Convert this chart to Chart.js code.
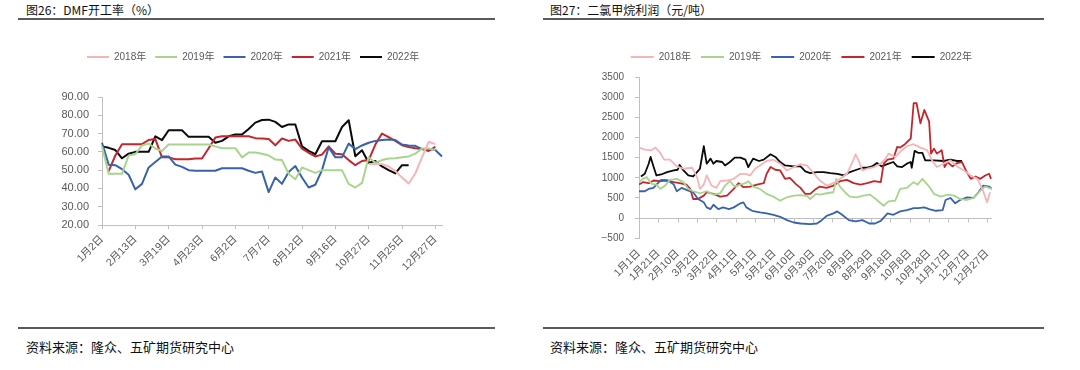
<!DOCTYPE html>
<html lang="zh-CN">
<head>
<meta charset="utf-8">
<script src="https://cdn.jsdelivr.net/npm/chart.js@4.4.1/dist/chart.umd.min.js"></script>
<style>
    html, body { margin: 0; padding: 0; background: #fff; }
    body { width: 1080px; height: 370px; position: relative; overflow: hidden; font-family: "Noto Sans CJK SC", sans-serif; }
    .title { position: absolute; top: 2px; font-size: 12px; line-height: 16px; color: #111; }
    .rule { position: absolute; height: 2px; background: #5a5a5a; }
    .source { position: absolute; top: 338px; font-size: 13px; line-height: 17px; color: #111; }
    canvas { position: absolute; top: 0; }
</style>
</head>
<body>
<div class="title" style="left:26px">图26：DMF开工率（%）</div>
<div class="rule" style="left:18px;width:477px;top:18px"></div>
<canvas id="dmfChart" width="540" height="325" style="left:0"></canvas>
<div class="rule" style="left:18px;width:477px;top:327px"></div>
<div class="source" style="left:26px">资料来源：隆众、五矿期货研究中心</div>

<div class="title" style="left:550px">图27：二氯甲烷利润（元/吨）</div>
<div class="rule" style="left:543px;width:501px;top:18px"></div>
<canvas id="dcmChart" width="540" height="325" style="left:540px"></canvas>
<div class="rule" style="left:543px;width:501px;top:327px"></div>
<div class="source" style="left:550px">资料来源：隆众、五矿期货研究中心</div>

<script>
// ---- DMF开工率 (weekly) ----
const dmfDates = ['1月2日', '1月9日', '1月16日', '1月23日', '2月6日', '2月13日', '2月20日', '2月27日', '3月5日', '3月12日',
    '3月19日', '3月26日', '4月2日', '4月9日', '4月16日', '4月23日', '4月30日', '5月7日', '5月14日', '5月21日',
    '6月2日', '6月9日', '6月16日', '6月23日', '6月30日', '7月7日', '7月14日', '7月21日', '7月28日', '8月4日',
    '8月12日', '8月19日', '8月26日', '9月2日', '9月9日', '9月16日', '9月23日', '9月30日', '10月13日', '10月20日',
    '10月27日', '11月3日', '11月10日', '11月17日', '11月21日', '11月25日', '12月2日', '12月9日', '12月16日', '12月23日',
    '12月27日', '12月30日'];

const dmf2018 = [null, null, null, null, null, null, null, null, null, null,
    null, null, null, null, null, null, null, null, null, null,
    null, null, null, null, null, null, null, null, null, null,
    null, null, null, null, null, null, null, null, null, null,
    53.3, 53.3, 53.3, 52, 49.5, 46, 42.7, 48.2, 57, 65.5, 64.2, null];
const dmf2019 = [63, 48, 48, 48, 58, 58.7, 63.5, 64.5, 61.8, 60.5,
    64, 64, 64, 64, 64, 64, 64, 63, 62, 62,
    62, 57, 59.6, 59.6, 59, 58, 55.8, 55.5, 48, 45,
    51.5, 50, 48.5, 50, 50, 50, 50, 42.5, 40.5, 43,
    57, 54, 55.5, 56.4, 56.5, 57, 57.5, 59, 61.8, 61.8, 61, null];
const dmf2020 = [65, 53, 52.7, 50.5, 47.5, 39.5, 42.5, 51.5, 54.5, 57.5,
    57.5, 53, 51.8, 50, 49.7, 49.7, 49.7, 49.7, 51, 51,
    51, 51, 49.7, 48.5, 49.2, 38, 46, 42.5, 49, 52.2,
    46, 40.5, 42, 50, 62.5, 57, 57, 64.5, 61.5, 63.5,
    65, 66, 66.5, 66.7, 66.5, 64, 63.5, 63.3, 61.5, 61.5, 61, 57.5];
const dmf2021 = [null, 49.5, 58, 64.2, 64.2, 64.2, 64.2, 66.5, 67, 57,
    57, 56, 56, 56, 56.4, 56.4, 62, 67.8, 68.5, 68.5,
    68.5, 68.5, 68.5, 67.5, 67.3, 67, 63.6, 67.3, 66, 66.7,
    61.8, 59.5, 57.5, 58.5, 63, 59, 58.7, 55.5, 52.7, 55,
    55.5, 64, 70, 68, 66, 63.6, 62.7, 62, 61.5, 60.5, 62.7, null];
const dmf2022 = [63, 62.2, 61, 56.5, 59, 60, 60, 60, 68.5, 66.4,
    71.8, 71.8, 71.8, 68.2, 68.2, 68.2, 68.2, 65, 66, 68.5,
    69.5, 69.5, 72.5, 76, 77.4, 77.6, 76.4, 73.6, 75, 75,
    63, 60.5, 58.7, 65.8, 65.8, 65.8, 73.6, 77.3, 57.6, 60.9,
    54, 55, 52, 50, 48.2, 52.7, 52.7, null, null, null, null, null];
const dmfTicks = [20, 90, 10];

// ---- 二氯甲烷利润 (daily, read every few days) ----
const dcmTickLabels = ['1月1日', '1月21日', '2月10日', '3月2日', '3月22日', '4月11日', '5月1日', '5月21日', '6月10日', '6月30日',
    '7月20日', '8月9日', '8月29日', '9月18日', '10月8日', '10月28日', '11月17日', '12月7日', '12月27日'];

const days2018 = [0, 6, 13, 17, 22, 26, 32, 39, 46, 55, 60, 63, 67, 70, 75, 80, 84, 91, 98, 105,
    110, 115, 120, 125, 132, 139, 146, 153, 160, 167, 174, 181, 187, 194, 201, 208, 215, 220, 224, 227,
    231, 236, 243, 250, 255, 258, 265, 270, 277, 284, 291, 298, 303, 308, 315, 322, 329, 336, 343, 350,
    355, 360, 363];
const profit2018 = [1750, 1700, 1683, 1750, 1617, 1450, 1450, 1283, 1225, 1250, 1017, 725, 833, 1058, 808, 750, 917, 933, 975, 1100,
    1100, 1058, 1225, 1308, 1417, 1450, 1350, 1183, 1267, 1340, 1300, 1100, 933, 808, 867, 975, 1100, 1350, 1583, 1433,
    1183, 1225, 1267, 1350, 1475, 1600, 1517, 1642, 1783, 1833, 1750, 1683, 1433, 1267, 1350, 1433, 1283, 1183, 1058, 975,
    725, 392, 642];

const days2019 = [0, 4, 8, 13, 18, 22, 27, 32, 39, 46, 51, 56, 63, 70, 77, 84, 89, 94, 99, 105,
    110, 113, 118, 125, 132, 139, 146, 153, 160, 167, 174, 177, 183, 187, 194, 201, 204, 207, 213, 218,
    225, 232, 239, 246, 253, 258, 265, 270, 277, 284, 288, 293, 300, 305, 312, 319, 326, 332, 339, 346,
    353, 358, 365];
const profit2019 = [892, 975, 1017, 850, 833, 725, 808, 950, 975, 892, 725, 667, 617, 667, 583, 617, 808, 917, 783, 833,
    867, 917, 783, 725, 600, 533, 433, 517, 558, 570, 545, 475, 600, 583, 617, 642, 975, 808, 642, 533,
    517, 558, 583, 450, 308, 417, 433, 725, 750, 892, 833, 975, 783, 600, 533, 583, 558, 475, 450, 500,
    683, 783, 725];

const days2020 = [0, 6, 10, 15, 18, 23, 30, 36, 39, 44, 51, 56, 61, 67, 70, 74, 77, 82, 87, 93,
    98, 105, 108, 111, 117, 125, 132, 139, 146, 153, 160, 167, 177, 184, 189, 194, 201, 205, 210, 217,
    224, 231, 238, 244, 250, 257, 263, 270, 277, 284, 289, 295, 300, 307, 314, 317, 322, 327, 332, 339,
    346, 351, 356, 362, 365];
const profit2020 = [667, 667, 725, 750, 833, 950, 933, 833, 667, 750, 683, 642, 475, 392, 267, 225, 333, 225, 267, 225,
    267, 367, 392, 267, 183, 142, 117, 83, 33, -50, -108, -133, -150, -133, -50, 58, 117, 167, 83, -50,
    -83, -50, -133, -133, -67, 117, 83, 167, 200, 250, 250, 267, 225, 183, 200, 450, 500, 367, 450, 517,
    500, 642, 808, 783, 725];

const days2021 = [0, 4, 10, 15, 22, 29, 36, 42, 49, 53, 56, 61, 67, 70, 77, 84, 91, 98, 103, 108,
    115, 122, 129, 132, 136, 141, 146, 151, 156, 162, 167, 172, 177, 183, 187, 194, 201, 208, 215, 222,
    229, 236, 243, 250, 253, 257, 263, 267, 270, 275, 281, 284, 287, 291, 295, 300, 302, 305, 308, 313,
    316, 319, 324, 329, 334, 338, 343, 348, 353, 358, 362, 364];
const profit2021 = [833, 892, 867, 933, 917, 933, 892, 867, 833, 725, 475, 475, 558, 642, 600, 533, 558, 725, 867, 767,
    783, 833, 867, 1100, 1267, 1200, 1183, 975, 1000, 850, 750, 600, 600, 725, 783, 750, 808, 917, 950, 867,
    833, 867, 917, 892, 1350, 1450, 1475, 1767, 1750, 1833, 1975, 2850, 2850, 2350, 2683, 2392, 1600, 1725, 1600, 1683,
    1267, 1392, 1283, 1367, 1392, 1183, 975, 1033, 975, 1058, 1100, 975];

const days2022 = [2, 6, 10, 12, 15, 18, 23, 29, 36, 40, 42, 46, 51, 56, 60, 63, 67, 70, 74, 77,
    80, 86, 89, 94, 99, 105, 110, 113, 118, 124, 129, 136, 141, 146, 151, 160, 167, 172, 177, 184,
    191, 198, 205, 212, 218, 225, 231, 236, 241, 246, 251, 256, 263, 267, 272, 277, 281, 282, 285, 289,
    293, 296, 305, 315, 322, 329, 334];
const profit2022 = [1033, 1100, 1350, 1517, 1283, 1058, 1083, 1142, 1183, 1200, 1320, 1183, 1058, 1033, 1142, 1225, 1783, 1350, 1475, 1350,
    1417, 1392, 1308, 1392, 1500, 1500, 1450, 1267, 1475, 1417, 1450, 1583, 1517, 1392, 1308, 1283, 1283, 1160, 1117, 1142,
    1142, 1117, 1100, 1058, 1142, 1200, 1250, 1250, 1283, 1367, 1283, 1333, 1392, 1283, 1267, 1350, 1392, 1250, 1667, 1617,
    1617, 1433, 1433, 1417, 1450, 1417, 1417];
const dcmTicks = [-500, 3500, 500];

const yearNames = ['2018年', '2019年', '2020年', '2021年', '2022年'];
const yearColors = ['#f5b4b6', '#a8d48d', '#3862ad', '#c1272d', '#0a0a0a'];

(function () {
    const axisGrey = '#bfbfbf';
    const textGrey = '#595959';
    Chart.defaults.font.family = '"Liberation Sans", "Noto Sans CJK SC", sans-serif';
    Chart.defaults.color = textGrey;

    // legend: extra room below it, and its row starts at a fixed x inside the canvas
    const legendPlace = (startX, extra) => ({
        id: 'legendPlace',
        beforeInit(chart) {
            const legend = chart.legend;
            const fit = legend.fit;
            const draw = legend.draw;
            legend.fit = function () {
                fit.call(this);
                this.height += extra;
            };
            legend.draw = function () {
                const pad = this.options.labels.padding;
                const start = (this.left + pad + this.right - this.lineWidths[0]) / 2;
                this.ctx.save();
                this.ctx.translate(startX - start, 0);
                draw.call(this);
                this.ctx.restore();
            };
        },
    });

    const lineLegend = (boxWidth, padding) => ({
        position: 'top',
        labels: {
            boxWidth: boxWidth,
            boxHeight: 2,
            padding: padding,
            color: textGrey,
            font: { size: 10 },
            generateLabels: (chart) => Chart.defaults.plugins.legend.labels.generateLabels(chart)
                .map((item) => ({ ...item, fillStyle: item.strokeStyle, lineWidth: 0 })),
        },
    });

    const lineStyle = (i, width) => ({
        label: yearNames[i],
        borderColor: yearColors[i],
        backgroundColor: yearColors[i],
        borderWidth: width,
        pointRadius: 0,
        tension: 0,
        borderJoinStyle: 'round',
        fill: false,
    });

    // ---- left chart ----
    const dmfSeries = [dmf2018, dmf2019, dmf2020, dmf2021, dmf2022];
    new Chart(document.getElementById('dmfChart'), {
        type: 'line',
        data: {
            labels: dmfDates,
            datasets: dmfSeries.map((values, i) => ({ ...lineStyle(i, 2), data: values })),
        },
        options: {
            responsive: false,
            animation: false,
            layout: { padding: { left: 10, right: 98, top: 43, bottom: 0 } },
            plugins: { legend: lineLegend(22, 9), tooltip: { enabled: false } },
            scales: {
                x: {
                    offset: false,
                    border: { color: axisGrey },
                    grid: { drawOnChartArea: false, color: axisGrey, tickLength: 4 },
                    ticks: {
                        autoSkip: false,
                        minRotation: 45,
                        maxRotation: 45,
                        padding: 4,
                        font: { size: 10.5 },
                        callback: (v, i) => (i % 5 === 0 ? dmfDates[i] : null),
                    },
                    afterFit: (s) => { s.height = 100; },
                },
                y: {
                    min: dmfTicks[0],
                    max: dmfTicks[1],
                    border: { color: axisGrey },
                    grid: { drawOnChartArea: false, color: axisGrey, tickLength: 4 },
                    ticks: { stepSize: dmfTicks[2], padding: 9, font: { size: 11 }, callback: (v) => v.toFixed(2) },
                    afterFit: (s) => { s.width = 92; },
                },
            },
        },
        plugins: [legendPlace(87, 25)],
    });

    // ---- right chart ----
    const dcmDays = [days2018, days2019, days2020, days2021, days2022];
    const dcmValues = [profit2018, profit2019, profit2020, profit2021, profit2022];

    const zeroAxis = {
        id: 'zeroAxis',
        beforeDatasetsDraw(chart) {
            const { ctx, chartArea, scales: { x, y } } = chart;
            const y0 = Math.round(y.getPixelForValue(0)) + 0.5;
            ctx.save();
            ctx.strokeStyle = axisGrey;
            ctx.lineWidth = 1;
            ctx.beginPath();
            ctx.moveTo(chartArea.left, y0);
            ctx.lineTo(chartArea.right, y0);
            x.ticks.forEach((t) => {
                const px = Math.round(x.getPixelForValue(t.value)) + 0.5;
                ctx.moveTo(px, y0);
                ctx.lineTo(px, y0 + 4);
            });
            ctx.stroke();
            ctx.restore();
        },
    };

    new Chart(document.getElementById('dcmChart'), {
        type: 'line',
        data: {
            datasets: dcmValues.map((values, i) => ({
                ...lineStyle(i, 1.8),
                data: values.map((v, k) => ({ x: dcmDays[i][k], y: v })),
            })),
        },
        options: {
            responsive: false,
            animation: false,
            layout: { padding: { left: 10, right: 88, top: 42, bottom: 0 } },
            plugins: { legend: lineLegend(23, 10), tooltip: { enabled: false } },
            scales: {
                x: {
                    type: 'linear',
                    min: 0,
                    max: 365,
                    border: { display: false },
                    grid: { display: false, drawTicks: false },
                    ticks: {
                        stepSize: 20,
                        includeBounds: false,
                        autoSkip: false,
                        minRotation: 45,
                        maxRotation: 45,
                        padding: 9,
                        font: { size: 10.5 },
                        callback: (v) => dcmTickLabels[v / 20],
                    },
                    afterFit: (s) => { s.height = 86.7; },
                },
                y: {
                    min: dcmTicks[0],
                    max: dcmTicks[1],
                    border: { color: axisGrey },
                    grid: { drawOnChartArea: false, color: axisGrey, tickLength: 4 },
                    ticks: {
                        stepSize: dcmTicks[2],
                        padding: 11,
                        font: { size: 10 },
                        callback: (v) => (v < 0 ? '−' + Math.abs(v) : String(v)),
                    },
                    afterFit: (s) => { s.width = 89; },
                },
            },
        },
        plugins: [legendPlace(90.7, 5), zeroAxis],
    });
})();
</script>
</body>
</html>
